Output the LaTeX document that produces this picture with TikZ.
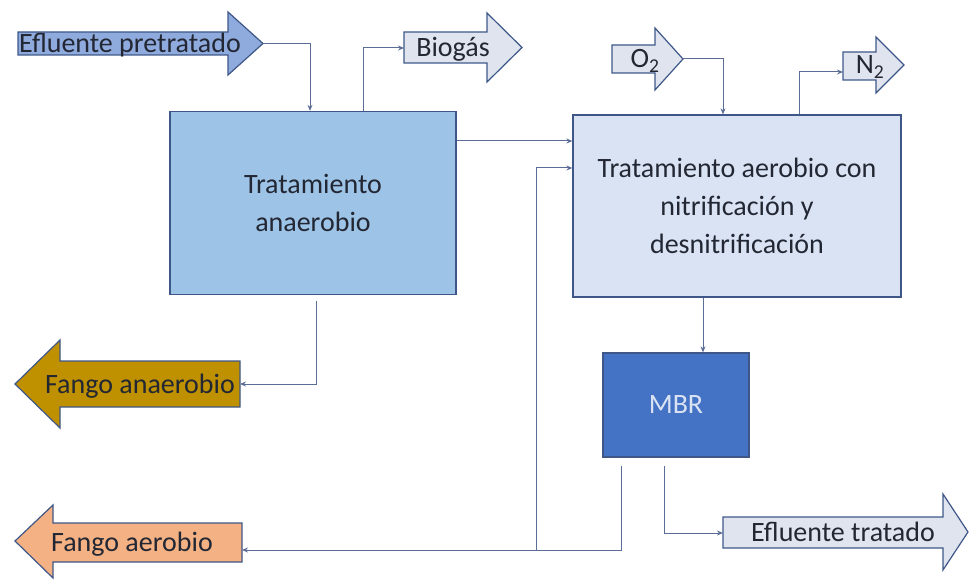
\documentclass[tikz,border=0pt]{standalone}
\usepackage{fontspec}
\setmainfont{Carlito}
\usetikzlibrary{arrows.meta}
\definecolor{texto}{HTML}{222733}
\definecolor{linea}{HTML}{5B6C96}
\definecolor{borde}{HTML}{3F5788}
\definecolor{anaerfill}{HTML}{9DC3E6}
\definecolor{aerobfill}{HTML}{DAE3F3}
\definecolor{mbrfill}{HTML}{4472C4}
\definecolor{prefill}{HTML}{8FAADC}
\definecolor{gasfill}{HTML}{DFE4EE}
\definecolor{oro}{HTML}{BF9000}
\definecolor{naranja}{HTML}{F4B183}
\begin{document}
\begin{tikzpicture}[x=1pt,y=-1pt,
    caja/.style={draw=borde,line width=1.3pt,align=center,inner sep=0pt,text=texto,
        font=\fontsize{28}{38}\selectfont},
    rotulo/.style={inner sep=0pt,text height=18pt,text depth=0pt,text=texto,
        font=\fontsize{28}{32}\selectfont},
    bloque/.style={draw=borde,line width=1.2pt,line join=miter},
    flecha/.style={draw=linea,line width=1pt,-{Stealth[length=6pt,width=5pt]}}]
    \useasboundingbox (0,0) rectangle (970,580);

    % cajas
    \node[caja,fill=anaerfill,minimum width=286,minimum height=183] (anaer) at (313,203)
        {Tratamiento\\anaerobio};
    \node[caja,fill=aerobfill,minimum width=328,minimum height=182] (aerob) at (737,206)
        {Tratamiento aerobio con\\nitrificación y\\desnitrificación};
    \node[caja,fill=mbrfill,minimum width=146,minimum height=104,text=aerobfill] (mbr) at (676,405)
        {MBR};

    % flechas de bloque
    \draw[bloque,fill=prefill] (18,32) -- (228,32) -- (228,12) -- (263,43.5) -- (228,75) -- (228,55) -- (18,55) -- cycle;
    \draw[bloque,fill=gasfill] (404,32) -- (487,32) -- (487,13) -- (522,47.5) -- (487,82) -- (487,63) -- (404,63) -- cycle;
    \draw[bloque,fill=gasfill] (612,45) -- (655,45) -- (655,28) -- (683,59) -- (655,90) -- (655,73) -- (612,73) -- cycle;
    \draw[bloque,fill=gasfill] (843,52) -- (876,52) -- (876,37) -- (904,65) -- (876,93) -- (876,80) -- (843,80) -- cycle;
    \draw[bloque,fill=gasfill] (723,517) -- (943,517) -- (943,494) -- (968,532) -- (943,570) -- (943,548) -- (723,548) -- cycle;
    \draw[bloque,fill=oro] (240,361) -- (60,361) -- (60,340) -- (15,384) -- (60,428) -- (60,407) -- (240,407) -- cycle;
    \draw[bloque,fill=naranja] (242,523) -- (53,523) -- (53,505) -- (15,541) -- (53,578) -- (53,562) -- (242,562) -- cycle;

    \node[rotulo] (pre) at (130,43.5) {Efluente pretratado};
    \node[rotulo] (biogas) at (453,47.5) {Biogás};
    \node[rotulo] (o2) at (645,59) {O\textsubscript{2}};
    \node[rotulo] (n2) at (870,65) {N\textsubscript{2}};
    \node[rotulo] (etrat) at (843,532) {Efluente tratado};
    \node[rotulo] (fanaer) at (140,384) {Fango anaerobio};
    \node[rotulo] (faer) at (132,542) {Fango aerobio};

    % puntos de entrada y salida
    \coordinate (preTip) at (263,43.5);
    \coordinate (bioIn) at (404,48);
    \coordinate (o2Tip) at (683,59);
    \coordinate (n2In) at (843,72);
    \coordinate (etIn) at (723,533);
    \coordinate (fanIn) at (240,384);
    \coordinate (faerIn) at (242,550);
    \coordinate (recBase) at (536,550);

    % conexiones
    \draw[flecha] (preTip) -| ([xshift=-3pt]anaer.north);
    \draw[flecha] ([xshift=50pt]anaer.north) |- (bioIn);
    \draw[flecha] (o2Tip) -| ([xshift=-14pt]aerob.north);
    \draw[flecha] ([xshift=62pt]aerob.north) |- (n2In);
    \draw[flecha] ([yshift=62pt]anaer.east) -- ([yshift=65pt]aerob.west);
    \draw[flecha] ([xshift=3pt,yshift=-6pt]anaer.south) |- (fanIn);
    \draw[flecha] ([xshift=-34pt]aerob.south) -- ([xshift=27pt]mbr.north);
    \draw[flecha] ([xshift=-12pt,yshift=-8pt]mbr.south) |- (etIn);
    \draw[flecha] ([xshift=-55pt,yshift=-8pt]mbr.south) |- (faerIn);
    \draw[flecha] (recBase) |- ([yshift=38pt]aerob.west);
\end{tikzpicture}
\end{document}
